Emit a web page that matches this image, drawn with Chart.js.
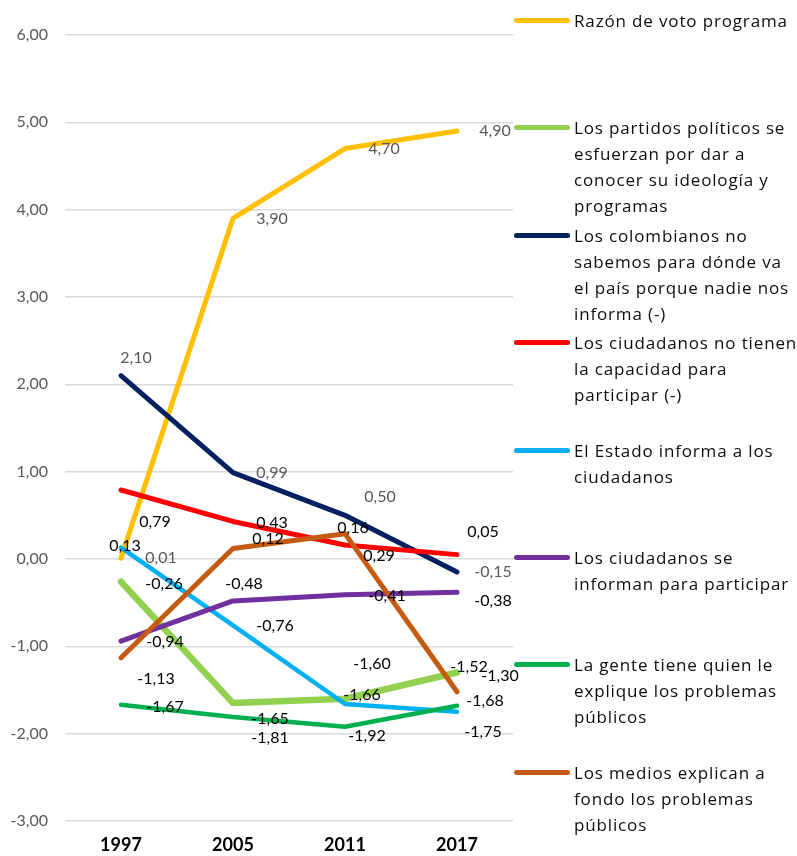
<!DOCTYPE html>
<html>
<head>
<meta charset="utf-8">
<script src="https://cdn.jsdelivr.net/npm/chart.js@4/dist/chart.umd.min.js"></script>
<style>
  body { margin: 0; background: #fff; }
  #wrap { position: relative; width: 797px; height: 856px; }
  #legend { position: absolute; left: 0; top: 0; width: 797px; height: 856px; pointer-events: none; }
  .item { position: absolute; left: 514px; width: 283px; font-family: "Open Sans", Lato, sans-serif; font-size: 17px; letter-spacing: 0.85px; line-height: 26px; color: #0d0d0d; }
  .item .swatch { position: absolute; left: 0; top: 10px; width: 56px; height: 5px; border-radius: 3px; }
  .item .txt { position: absolute; left: 60px; top: 0; white-space: pre; }
</style>
</head>
<body>
<div id="wrap">
  <canvas id="lineChart1" width="797" height="856"></canvas>
  <div id="legend"></div>
</div>
<script>
// data
var years = ["1997", "2005", "2011", "2017"];
var razonVoto = [0.01, 3.90, 4.70, 4.90];
var partidosEsfuerzan = [-0.26, -1.65, -1.60, -1.30];
var colombianosNoSabemos = [2.10, 0.99, 0.50, -0.15];
var ciudadanosNoCapacidad = [0.79, 0.43, 0.16, 0.05];
var estadoInforma = [0.13, -0.76, -1.66, -1.75];
var ciudadanosSeInforman = [-0.94, -0.48, -0.41, -0.38];
var genteQuienExplique = [-1.67, -1.81, -1.92, -1.68];
var mediosExplican = [-1.13, 0.12, 0.29, -1.52];
var yTicks = [-3, -2, -1, 0, 1, 2, 3, 4, 5, 6];

// legend names, \n marks where the original wraps
var seriesNames = [
  "Razón de voto programa",
  "Los partidos políticos se\nesfuerzan por dar a\nconocer su ideología y\nprogramas",
  "Los colombianos no\nsabemos para dónde va\nel país porque nadie nos\ninforma (-)",
  "Los ciudadanos no tienen\nla capacidad para\nparticipar (-)",
  "El Estado informa a los\nciudadanos",
  "Los ciudadanos se\ninforman para participar",
  "La gente tiene quien le\nexplique los problemas\npúblicos",
  "Los medios explican a\nfondo los problemas\npúblicos"
];
var seriesValues = [razonVoto, partidosEsfuerzan, colombianosNoSabemos, ciudadanosNoCapacidad,
  estadoInforma, ciudadanosSeInforman, genteQuienExplique, mediosExplican];
var seriesColors = ["#FFC000", "#92D050", "#002060", "#FF0000", "#00B0F0", "#7030A0", "#00B050", "#C55A11"];
var seriesWidths = [5, 6.5, 5, 5, 4.5, 5, 4.5, 5];
var labelColors = ["#595959", "#000", "#595959", "#000", "#000", "#000", "#000", "#000"];

// label nudges (dx, dy) in px from each point
var labelNudge = [
  [[40, 0], [39, 0], [39, 0], [38, 0]],
  [[43, 2], [37, 16], [27, -35], [43, 3]],
  [[15, -18], [39, 0], [35, -18], [36, 0]],
  [[34, 32], [39, 1], [8, -17], [26, -23]],
  [[4, -2], [42, 0], [17, -9], [26, 20]],
  [[44, 1], [11, -17], [42, 1], [36, 9]],
  [[44, 2], [37, 21], [22, 9], [28, -5]],
  [[35, 21], [35, -10], [34, 22], [12, -25]]
];

function fmt(v) {
  return v.toFixed(2).replace('.', ',');
}

var datasets = seriesNames.map(function (name, i) {
  return {
    label: name.replace(/\n/g, ' '),
    data: seriesValues[i],
    borderColor: seriesColors[i],
    backgroundColor: seriesColors[i],
    borderWidth: seriesWidths[i],
    borderCapStyle: 'round',
    borderJoinStyle: 'round',
    pointRadius: 0,
    lineTension: 0,
    fill: false,
    order: seriesNames.length - i
  };
});

var pointLabels = {
  id: 'pointLabels',
  afterDatasetsDraw: function (chart) {
    var ctx = chart.ctx;
    ctx.save();
    ctx.font = '16px Lato, "Open Sans", sans-serif';
    ctx.textAlign = 'center';
    ctx.textBaseline = 'middle';
    chart.data.datasets.forEach(function (ds, i) {
      var meta = chart.getDatasetMeta(i);
      meta.data.forEach(function (pt, j) {
        var n = labelNudge[i][j];
        ctx.fillStyle = labelColors[i];
        ctx.fillText(fmt(ds.data[j]), pt.x + n[0], pt.y + n[1]);
      });
    });
    ctx.restore();
  }
};

var ctxL = document.getElementById("lineChart1").getContext('2d');
var myLineChart = new Chart(ctxL, {
  type: 'line',
  data: {
    labels: years,
    datasets: datasets
  },
  options: {
    responsive: false,
    animation: false,
    layout: { padding: { left: 0, right: 284, top: 35, bottom: 0 } },
    plugins: {
      legend: { display: false },
      tooltip: { enabled: false }
    },
    scales: {
      x: {
        offset: true,
        grid: { display: false, drawTicks: false },
        border: { display: false },
        ticks: {
          color: '#000',
          padding: 13,
          font: { family: 'Lato, "Open Sans", sans-serif', size: 18, weight: 'bold' }
        },
        afterFit: function (scale) { scale.height = 35; }
      },
      y: {
        min: -3,
        max: 6,
        afterBuildTicks: function (scale) {
          scale.ticks = yTicks.map(function (v) { return { value: v }; });
        },
        grid: { color: '#D9D9D9', lineWidth: 1.5, drawTicks: false },
        border: { display: false },
        ticks: {
          color: '#595959',
          padding: 17,
          font: { family: 'Lato, "Open Sans", sans-serif', size: 16 },
          callback: function (v) { return fmt(v); }
        },
        afterFit: function (scale) { scale.width = 65; }
      }
    }
  },
  plugins: [pointLabels]
});

// legend (html, stacked on the right)
var legend = document.getElementById('legend');
seriesNames.forEach(function (name, i) {
  var item = document.createElement('div');
  item.className = 'item';
  item.style.top = (8 + i * 107.4) + 'px';
  var sw = document.createElement('div');
  sw.className = 'swatch';
  sw.style.background = seriesColors[i];
  var tx = document.createElement('div');
  tx.className = 'txt';
  tx.textContent = name;
  item.appendChild(sw);
  item.appendChild(tx);
  legend.appendChild(item);
});
</script>
</body>
</html>
